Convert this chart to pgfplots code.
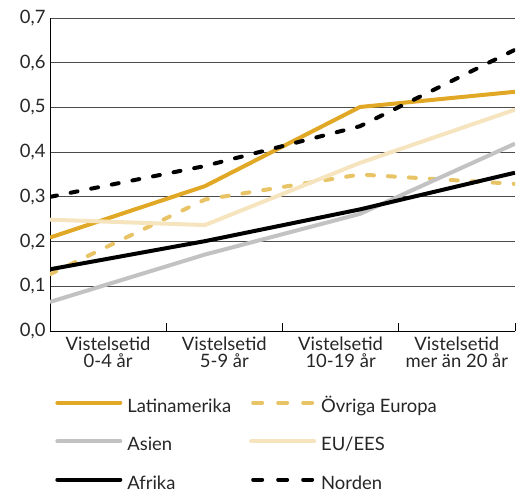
\documentclass[border=0pt]{standalone}
\usepackage{fontspec}
\setmainfont{Lato}
\usepackage{pgfplots}
\pgfplotsset{compat=1.18}
\definecolor{latam}{HTML}{E0A824}
\definecolor{ovreu}{HTML}{E9C466}
\definecolor{asien}{HTML}{C2C2C2}
\definecolor{eues}{HTML}{F5E4BE}
\pgfplotsset{dashedlegend/.style={legend image code/.code={\draw[line cap=round, ##1, dash pattern=on 9bp off 16bp] (2bp,5bp) -- (61bp,5bp);}}}
\begin{document}
\begin{tikzpicture}
\useasboundingbox (-50bp,-161bp) rectangle (468bp,331bp);
\begin{axis}[
  scale only axis, width=465bp, height=313bp,
  xmin=0, xmax=3, ymin=0, ymax=0.7,
  axis x line=bottom, axis y line=left,
  axis line style={-, black, line width=1bp},
  xtick={0.375,1.125,1.875,2.625},
  xticklabels={{Vistelsetid\\0-4 år},{Vistelsetid\\5-9 år},{Vistelsetid\\10-19 år},{Vistelsetid\\mer än 20 år}},
  major x tick style={draw=none},
  minor xtick={0,0.75,1.5,2.25,3},
  minor tick length=8bp, tick align=inside,
  minor x tick style={black, line width=1bp},
  ytick={0,0.1,0.2,0.3,0.4,0.5,0.6,0.7},
  ytick style={draw=none},
  ymajorgrids, major grid style={color=black!70, line width=1bp},
  yticklabel style={/pgf/number format/fixed, /pgf/number format/fixed zerofill, /pgf/number format/precision=1, /pgf/number format/use comma, xshift=-1bp},
  /pgf/number format/assume math mode=true,
  tick label style={font=\fontsize{18.5}{17.5}\selectfont, text=black!85},
  xticklabel style={align=center, yshift=-2bp},
  legend columns=2,
  legend style={at={(axis description cs:0.011,-0.217)}, anchor=north west,
    draw=none, fill=none, inner sep=0pt,
    font=\fontsize{18.5}{17.5}\selectfont, text=black!85,
    nodes={inner sep=0pt, text height=13bp, text depth=4bp},
    row sep=21.5bp,
    /tikz/every odd column/.append style={column sep=5bp},
    /tikz/every even column/.append style={column sep=18bp}},
  legend cell align=left,
  legend image code/.code={\draw[line cap=round, #1] (0bp,5bp) -- (63bp,5bp);},
  every axis plot/.append style={line width=4bp},
]
\addplot[latam] coordinates {(0,0.209) (1,0.324) (2,0.501) (3,0.535)};
\addlegendentry{Latinamerika}
\addplot[ovreu, line cap=round, dash pattern=on 7bp off 14bp, dashedlegend] coordinates {(0,0.127) (1,0.294) (2,0.350) (3,0.329)};
\addlegendentry{Övriga Europa}
\addplot[asien] coordinates {(0,0.065) (1,0.171) (2,0.262) (3,0.419)};
\addlegendentry{Asien}
\addplot[eues] coordinates {(0,0.249) (1,0.237) (2,0.376) (3,0.495)};
\addlegendentry{EU/EES}
\addplot[black] coordinates {(0,0.138) (1,0.201) (2,0.272) (3,0.354)};
\addlegendentry{Afrika}
\addplot[black, line cap=round, dash pattern=on 7bp off 14bp, dashedlegend] coordinates {(0,0.300) (1,0.369) (2,0.458) (3,0.629)};
\addlegendentry{Norden}
\end{axis}
\end{tikzpicture}
\end{document}
